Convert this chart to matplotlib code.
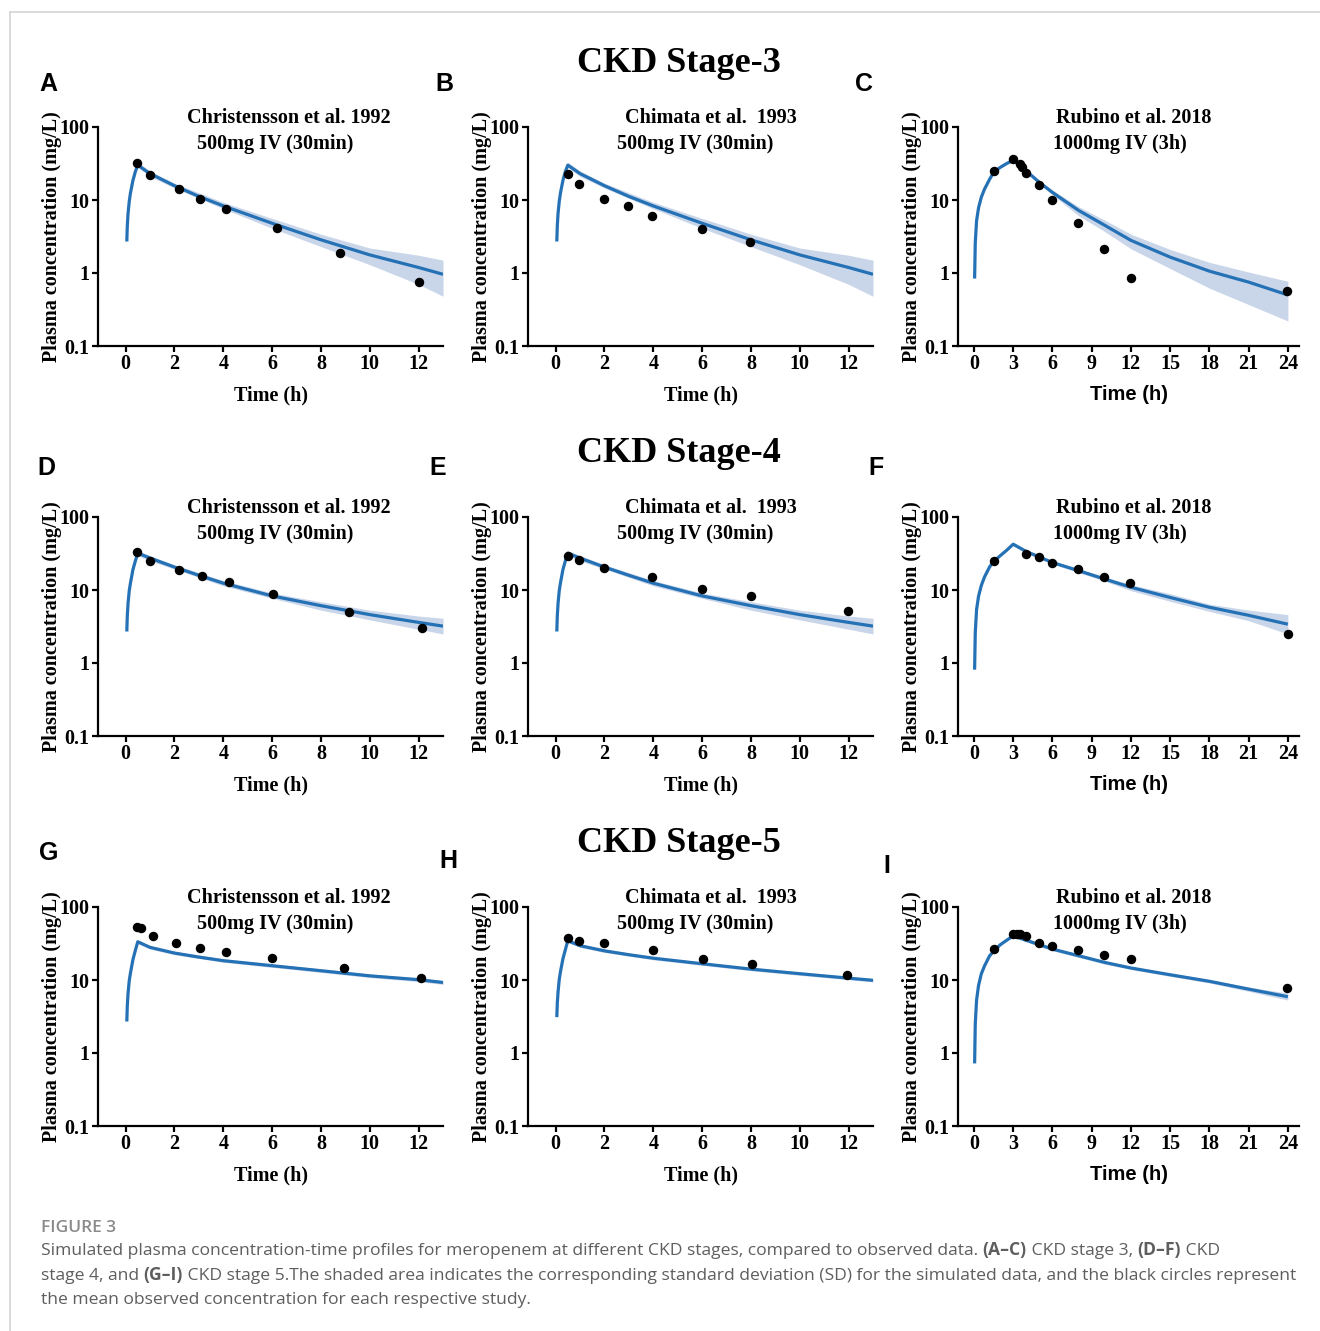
import numpy as np
import matplotlib
matplotlib.use('Agg')
import matplotlib.pyplot as plt
from matplotlib.lines import Line2D

W, H = 1320, 1331
SERIF = 'Liberation Serif'
SANS = 'Liberation Sans'
LINE_C = '#2471b5'
BAND_C = '#c9d5e9'

stages = ['CKD Stage-3', 'CKD Stage-4', 'CKD Stage-5']
letters = ['A', 'B', 'C', 'D', 'E', 'F', 'G', 'H', 'I']
studies = ['Christensson et al. 1992', 'Chimata et al.  1993', 'Rubino et al. 2018']
doses = ['500mg IV (30min)', '500mg IV (30min)', '1000mg IV (3h)']

# simulated profiles
t_short = [0.05, 0.07, 0.1, 0.15, 0.2, 0.3, 0.4, 0.5, 1, 2, 3, 4, 6, 8, 10, 12, 13]
t_short_band = [0.5, 1, 2, 4, 6, 8, 10, 12, 13]
t_long = [0.05, 0.1, 0.2, 0.35, 0.56, 0.8, 1.2, 1.5, 2, 2.5, 3, 4, 5, 6, 8, 10, 12, 15, 18, 21, 24]
t_long_band = [3, 4, 6, 8, 10, 12, 15, 18, 21, 24]

sim_s3 = [2.7, 4.4, 6.5, 9.6, 12.5, 18.5, 24.5, 30, 23, 15.7, 11.2, 8.3, 4.8, 2.85, 1.77, 1.19, 0.96]
lo_s3 = [28, 21, 14.6, 7.6, 4.1, 2.3, 1.3, 0.7, 0.48]
hi_s3 = [33, 25, 17, 9.3, 5.6, 3.4, 2.2, 1.75, 1.5]
sim_r3 = [0.84, 2.6, 5.2, 7.8, 10.9, 14, 19.3, 23.8, 27.9, 31.6, 35, 25, 17.4, 12.7,
          7.2, 4.5, 2.8, 1.65, 1.06, 0.75, 0.5]
lo_r3 = [34, 24, 11.8, 6.1, 3.7, 2.15, 1.15, 0.62, 0.37, 0.22]
hi_r3 = [36, 25.9, 13.7, 8.1, 5.3, 3.4, 2.1, 1.4, 1.03, 0.77]

sim_s4 = [2.7, 4.4, 6.5, 9.8, 12.5, 19, 25, 32, 27.4, 20.6, 15.9, 12.4, 8.3, 6.1, 4.6, 3.6, 3.2]
lo_s4 = [29.5, 25, 19.4, 11.4, 7.7, 5.3, 3.9, 2.9, 2.5]
hi_s4 = [34.5, 29.5, 22.2, 13.5, 9.1, 6.9, 5.3, 4.4, 4.1]
sim_r4 = [0.81, 2.6, 5.4, 8.2, 11.5, 15, 20.8, 24.5, 29.4, 35, 42.4, 33.7, 28.3, 23.8,
          18.4, 14.1, 10.9, 7.9, 5.8, 4.5, 3.4]
lo_r4 = [40, 32, 22.6, 17.3, 13.2, 9.8, 7.0, 5.1, 3.8, 2.5]
hi_r4 = [44, 35.5, 25.1, 19.5, 15.2, 11.8, 8.9, 6.4, 5.3, 4.6]

sim_s5a = [2.7, 4.4, 6.5, 9.8, 12.5, 19, 25.5, 33.4, 28, 23.4, 20.6, 18.4, 15.7, 13.4, 11.4, 10.1, 9.25]
lo_s5a = [31.5, 26.5, 22.2, 17.5, 14.9, 12.7, 10.8, 9.5, 8.7]
hi_s5a = [35, 29.5, 24.7, 19.4, 16.6, 14.2, 12.1, 10.7, 9.8]
sim_s5b = [3.1, 4.8, 6.8, 10.2, 13, 19.5, 26, 34.5, 29.5, 25.1, 22.2, 19.9, 16.7, 14.1, 12.2, 10.6, 9.9]
lo_s5b = [32.8, 28, 23.8, 18.9, 15.9, 13.4, 11.6, 10.1, 9.4]
hi_s5b = [36.2, 31, 26.4, 20.9, 17.5, 14.8, 12.8, 11.1, 10.4]
sim_r5 = [0.72, 2.5, 5.3, 8.4, 12.1, 15.5, 21.5, 24.5, 30.3, 35, 40.3, 35, 30.5, 26.5,
          21.5, 17.4, 14.6, 11.8, 9.6, 7.5, 5.9]
lo_r5 = [38.5, 33.2, 25.2, 20.4, 16.5, 13.9, 11.2, 9.1, 7.0, 5.3]
hi_r5 = [42, 36.8, 27.8, 22.6, 18.3, 15.3, 12.4, 10.1, 8.0, 6.6]

# observed means
obs_t_A = [0.48, 1.01, 2.17, 3.03, 4.1, 6.22, 8.79, 12.01]
obs_c_A = [32, 21.9, 14.1, 10.4, 7.5, 4.07, 1.85, 0.75]
obs_t_B = [0.49, 0.96, 1.97, 2.97, 3.96, 5.98, 7.98]
obs_c_B = [22.9, 16.7, 10.4, 8.2, 6.1, 4.0, 2.7]
obs_t_C = [1.5, 2.98, 3.49, 3.69, 4.0, 4.97, 5.99, 7.97, 9.96, 12.0, 23.97]
obs_c_C = [25, 37, 31.6, 28.5, 23.8, 16, 10, 4.8, 2.15, 0.85, 0.56]
obs_t_D = [0.48, 1.01, 2.17, 3.13, 4.22, 6.05, 9.16, 12.14]
obs_c_D = [33.4, 24.9, 18.9, 15.5, 12.8, 8.8, 4.97, 2.97]
obs_t_E = [0.49, 0.96, 1.97, 3.96, 6.01, 8.02, 11.97]
obs_c_E = [29.5, 25.5, 19.8, 15.0, 10.3, 8.2, 5.2]
obs_t_F = [1.5, 4.0, 4.97, 5.99, 7.97, 9.96, 11.95, 24]
obs_c_F = [25, 31.6, 28.5, 23.8, 19.1, 15.2, 12.3, 2.5]
obs_t_G = [0.45, 0.62, 1.12, 2.08, 3.03, 4.1, 6.0, 8.95, 12.08]
obs_c_G = [53.8, 51, 40.4, 31.8, 27.1, 24.4, 19.8, 14.4, 10.6]
obs_t_H = [0.49, 0.96, 1.97, 3.97, 6.03, 8.05, 11.95]
obs_c_H = [37.5, 34.2, 31.8, 25.7, 19.5, 16.5, 11.7]
obs_t_I = [1.5, 2.98, 3.26, 3.54, 4.0, 4.97, 5.99, 7.97, 9.96, 12.0, 23.97]
obs_c_I = [27, 42.4, 42.4, 42.4, 40.6, 32.6, 29.4, 25.9, 22.2, 19.7, 7.8]

panels = [
    (sim_s3, lo_s3, hi_s3, obs_t_A, obs_c_A),
    (sim_s3, lo_s3, hi_s3, obs_t_B, obs_c_B),
    (sim_r3, lo_r3, hi_r3, obs_t_C, obs_c_C),
    (sim_s4, lo_s4, hi_s4, obs_t_D, obs_c_D),
    (sim_s4, lo_s4, hi_s4, obs_t_E, obs_c_E),
    (sim_r4, lo_r4, hi_r4, obs_t_F, obs_c_F),
    (sim_s5a, lo_s5a, hi_s5a, obs_t_G, obs_c_G),
    (sim_s5b, lo_s5b, hi_s5b, obs_t_H, obs_c_H),
    (sim_r5, lo_r5, hi_r5, obs_t_I, obs_c_I),
]

fig = plt.figure(figsize=(W / 100, H / 100), dpi=100)

# page frame lines
fig.add_artist(Line2D([10 / W, 1], [1 - 12 / H, 1 - 12 / H], color='#d4d4d4', lw=1.2))
fig.add_artist(Line2D([10 / W, 10 / W], [0, 1 - 12 / H], color='#d4d4d4', lw=1.2))

col_left = [98, 528, 958]
col_w = [345, 345, 341]
row_bottom = [346, 736, 1126]
ax_h = 219
letter_pos = [(48, 84), (444, 84), (864, 84), (46, 468), (438, 468), (876, 468),
              (49, 853), (448, 861), (887, 866)]
title_x = [(0.258, 0.287), (0.281, 0.258), (0.287, 0.279)]

for r in range(3):
    fig.text(679 / W, 1 - (72 + 390 * r) / H, stages[r], fontsize=26, fontweight='bold',
             family=SERIF, ha='center', va='baseline')
    for c in range(3):
        k = r * 3 + c
        sim, lo, hi, ot, oc = panels[k]
        ax = fig.add_axes([col_left[c] / W, 1 - row_bottom[r] / H, col_w[c] / W, ax_h / H])
        if c < 2:
            ax.fill_between(t_short_band, lo, hi, color=BAND_C, lw=0)
            ax.plot(t_short, sim, color=LINE_C, lw=2.3, solid_capstyle='butt')
            ax.set_xlim(-1.13, 13.0)
            ax.set_xticks(range(0, 13, 2))
        else:
            ax.fill_between(t_long_band, lo, hi, color=BAND_C, lw=0)
            ax.plot(t_long, sim, color=LINE_C, lw=2.3, solid_capstyle='butt')
            ax.set_xlim(-1.22, 24.85)
            ax.set_xticks(range(0, 25, 3))
        ax.plot(ot, oc, 'o', color='black', ms=5.8, zorder=5)
        ax.set_yscale('log')
        ax.set_ylim(0.1, 100)
        ax.set_yticks([0.1, 1, 10, 100])
        ax.set_yticklabels(['0.1', '1', '10', '100'])
        ax.minorticks_off()
        for s in ['top', 'right']:
            ax.spines[s].set_visible(False)
        for s in ['left', 'bottom']:
            ax.spines[s].set_linewidth(1.6)
        ax.tick_params(direction='out', length=4, width=1.6, pad=2)
        for lab in ax.get_xticklabels() + ax.get_yticklabels():
            lab.set_fontfamily(SERIF)
            lab.set_fontweight('bold')
            lab.set_fontsize(14.5)
        ax.set_ylabel('Plasma concentration (mg/L)', family=SERIF, fontweight='bold',
                      fontsize=14.5, labelpad=-2)
        ax.set_xlabel('Time (h)', family=SANS if c == 2 else SERIF, fontweight='bold',
                      fontsize=14.5, labelpad=8)
        tx1, tx2 = title_x[c]
        ax.text(tx1, 1.041, studies[c], transform=ax.transAxes, family=SERIF,
                fontweight='bold', fontsize=14.5, ha='left', va='center')
        ax.text(tx2, 0.922, doses[c], transform=ax.transAxes, family=SERIF,
                fontweight='bold', fontsize=14.5, ha='left', va='center')
        lx, ly = letter_pos[k]
        fig.text(lx / W, 1 - ly / H, letters[k], family=SANS, fontweight='bold',
                 fontsize=18, ha='center', va='center')

# caption
cap_font = 'Open Sans'
cap_size = 12.6
fig.text(41 / W, 1 - 1232 / H, 'FIGURE 3', family=cap_font, fontsize=12.5,
         fontweight='semibold', color='#8a8a8a', ha='left', va='baseline')

cap_lines = [
    [('Simulated plasma concentration-time profiles for meropenem at different CKD stages, '
      'compared to observed data. ', False), ('(A\u2013C)', True), (' CKD stage 3, ', False),
     ('(D\u2013F)', True), (' CKD', False)],
    [('stage 4, and ', False), ('(G\u2013I)', True),
     (' CKD stage 5.The shaded area indicates the corresponding standard deviation (SD) for '
      'the simulated data, and the black circles represent', False)],
    [('the mean observed concentration for each respective study.', False)],
]
cap_y = [1255, 1280, 1304]
cap_texts = []
for line, yb in zip(cap_lines, cap_y):
    row = []
    for txt, bold in line:
        row.append(fig.text(41 / W, 1 - yb / H, txt, family=cap_font, fontsize=cap_size,
                            color='#5e5e5e', fontweight='bold' if bold else 'normal',
                            ha='left', va='baseline'))
    cap_texts.append(row)

# chain the pieces of each caption line one after another
fig.canvas.draw()
renderer = fig.canvas.get_renderer()
for row in cap_texts:
    x = row[0].get_window_extent(renderer).x1
    for t in row[1:]:
        t.set_x(x / W)
        x = t.get_window_extent(renderer).x1

fig.savefig('out.png', dpi=100)
